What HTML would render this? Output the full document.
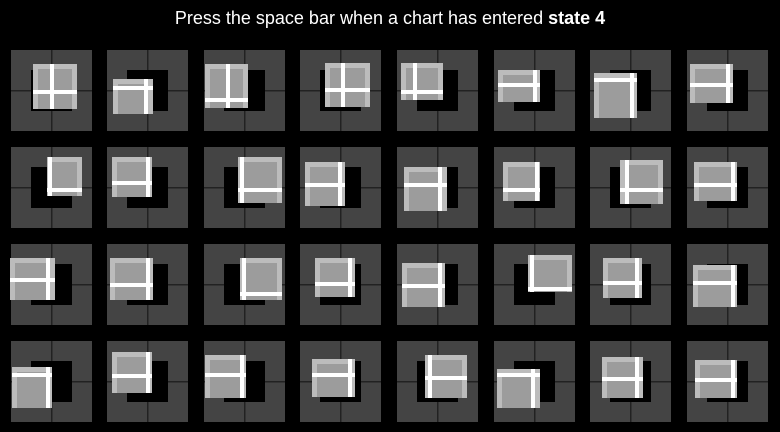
<!DOCTYPE html>
<html><head><meta charset="utf-8"><style>
html,body{margin:0;padding:0;background:#000;width:780px;height:432px;overflow:hidden}
#title{position:absolute;left:0;top:8px;width:780px;text-align:center;color:#fff;font:18px "Liberation Sans",sans-serif}
svg{position:absolute;left:0;top:0}
</style></head><body>
<div id="title">Press the space bar when a chart has entered <b>state 4</b></div>
<svg id="s" width="780" height="432"></svg>
<script>
const tileX=[11,107,204,300,397,494,590,687];
const tileY=[50,147,244,341];
const lightX0=[33,113,205,325,401,498,594,690, 47,112,238,305,404,503,620,694, 10,110,240,315,402,528,603,693, 12,112,205,312,425,497,602,695];
const lightX1=[77,153,248,370,443,540,637,733, 82,152,282,345,447,540,663,737, 55,153,282,355,445,572,642,737, 52,152,246,355,467,540,643,737];
const lightY0=[64,79,64,63,63,70,73,64, 157,157,157,162,167,162,160,162, 258,258,258,258,263,255,258,265, 367,352,355,359,355,369,357,360];
const lightY1=[109,114,108,107,100,102,118,103, 196,197,203,206,211,201,204,201, 300,300,300,297,307,292,298,307, 408,393,398,397,398,408,398,398];
const crossV=[52,146,228,343,415,535,632,728, 50,148,242,340,440,537,627,733, 48,148,244,350,440,532,637,733, 48,148,242,350,430,533,637,733];
const crossH=[92,88,100,90,92,85,80,85, 190,183,190,185,185,190,190,185, 280,285,294,284,286,289,283,283, 375,376,375,375,378,375,379,380];
const s=document.getElementById('s');
function r(x,y,w,h,f,name){const e=document.createElementNS('http://www.w3.org/2000/svg','rect');
e.setAttribute('x',x);e.setAttribute('y',y);e.setAttribute('width',w);e.setAttribute('height',h);e.setAttribute('fill',f);


s.appendChild(e);return e;}
for(let j=0;j<4;j++)for(let i=0;i<8;i++){
 const k=j*8+i,x=tileX[i],y=tileY[j];
 const t=r(x,y,81,81,'#444','tile');
 
 r(x+40,y,1.5,81,'#222','tile-crosshair-v');
 r(x,y+40,81,1.5,'#222','tile-crosshair-h');
 r(x+20,y+20,41,41,'#000','target-square');
 const lx=lightX0[k],ly=lightY0[k],lw=lightX1[k]-lx,lh=lightY1[k]-ly;
 r(lx,ly,lw,lh,'#bcbcbc','light-square');
 r(lx+5,ly+5,lw-10,lh-5,'#9c9c9c','inner-square');
 const cv=Math.min(Math.max(crossV[k],lx+2),lx+lw-2);
 const ch=Math.min(Math.max(crossH[k],ly+2),ly+lh-2);
 r(cv-2,ly,4,lh,'#fff','white-bar-v');
 r(lx,ch-2,lw,4,'#fff','white-bar-h');
}
</script>
</body></html>
